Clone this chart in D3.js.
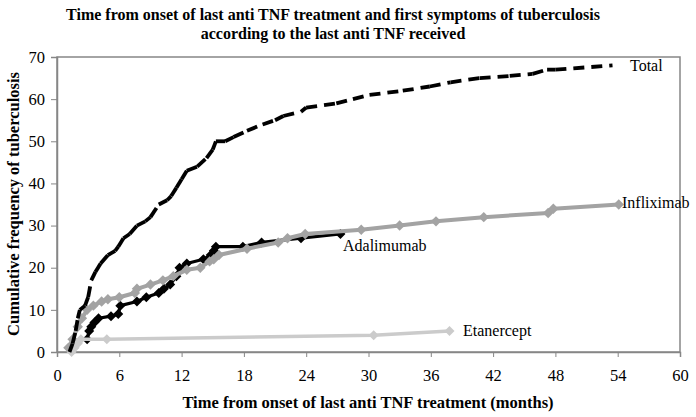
<!DOCTYPE html>
<html>
<head>
<meta charset="utf-8">
<script src="https://cdn.jsdelivr.net/npm/d3@7"></script>
<style>
  html, body { margin: 0; padding: 0; background: #fff; }
  svg { display: block; font-family: "Liberation Serif", "Times New Roman", serif; }
</style>
</head>
<body>
<svg id="chart" width="696" height="417"></svg>
<script>
// ---- data (month, cumulative count) ----
const titleLines = [
  "Time from onset of last anti TNF treatment and first symptoms of tuberculosis",
  "according to the last anti TNF received"
];
const xTicks = [0, 6, 12, 18, 24, 30, 36, 42, 48, 54, 60];
const yTicks = [0, 10, 20, 30, 40, 50, 60, 70];
const xTitle = "Time from onset of last anti TNF treatment (months)";
const yTitle = "Cumulative frequency of tuberculosis";

const totalData = [
  [1.2,0],[1.5,2],[1.8,5],[2.0,8],[2.2,10],[2.7,11],[3.0,13],[3.3,17],[3.7,19],[4.2,21],
  [4.9,23],[5.6,24],[5.9,25],[6.4,27],[7.0,28],[7.7,30],[8.5,31],[9.0,32],[9.8,35],[10.6,36],
  [11.0,37],[11.5,39],[12.0,41],[12.5,43],[13.5,44],[14.4,46],[15.0,48],[15.3,50],[16.2,50],
  [17.0,51],[18.3,52.5],[19.8,54],[21.0,55],[21.8,56],[23.5,57],[24.0,58],[26.9,59],[28.5,60],
  [30.1,61],[33.3,62],[35.9,63],[37.9,64],[40.7,65],[43.6,65.5],[45.8,66],[47.2,67],[48.0,67],[53.5,68]
];
const infliximabData = [
  [1.1,1],[1.5,3],[2.0,6],[2.4,8],[2.9,10],[3.5,11],[4.3,12],[4.9,12.5],[6.0,13],[7.5,14],
  [7.7,15],[9.0,16],[10.2,17],[11.2,18],[12.5,19.5],[13.8,20],[14.7,21.5],[15.1,22],[15.6,23],
  [18.3,24.5],[21.3,26],[22.2,27],[23.9,28],[29.3,29],[33.0,30],[36.5,31],[41.1,32],[47.3,33],
  [47.8,34],[54.1,35]
];
const adalimumabData = [
  [2.9,3],[3.1,5],[3.3,6],[3.6,7],[4.0,8],[5.2,8.5],[5.9,9],[6.1,11],[7.7,12],[8.6,13],
  [9.8,14],[10.3,15],[10.9,16],[11.5,18],[11.8,20],[12.5,21],[14.1,22],[14.8,23],[15.1,24],
  [15.3,25],[17.9,25],[19.7,26],[23.5,27],[27.3,28]
];
const etanerceptData = [
  [1.4,0],[1.7,1],[2.0,2],[2.3,3],[4.8,3],[30.5,4],[37.8,5]
];
const seriesNames = ["Adalimumab", "Infliximab", "Etanercept", "Total"];

// ---- layout ----
const svg = d3.select("#chart");
const x = d3.scaleLinear().domain([0, 60]).range([57, 680]);
const y = d3.scaleLinear().domain([0, 70]).range([352, 57]);
const frameColor = "#868686";

// title
svg.append("g").selectAll("text").data(titleLines).join("text")
  .attr("x", 333).attr("y", (d, i) => 20 + i * 19)
  .attr("text-anchor", "middle")
  .attr("font-weight", "bold").attr("font-size", 16)
  .text(d => d);

// plot frame
svg.append("rect")
  .attr("x", x(0)).attr("y", y(70))
  .attr("width", x(60) - x(0)).attr("height", y(0) - y(70))
  .attr("fill", "none").attr("stroke", frameColor).attr("stroke-width", 1.5);

// axes
const xAxis = svg.append("g").attr("transform", `translate(0,${y(0)})`)
  .call(d3.axisBottom(x).tickValues(xTicks).tickSize(5).tickPadding(12).tickFormat(d3.format("d")));
const yAxis = svg.append("g").attr("transform", `translate(${x(0)},0)`)
  .call(d3.axisLeft(y).tickValues(yTicks).tickSize(6).tickPadding(6).tickFormat(d3.format("d")));
[xAxis, yAxis].forEach(a => {
  a.select(".domain").attr("stroke", frameColor).attr("stroke-width", 1.5);
  a.selectAll(".tick line").attr("stroke", frameColor).attr("stroke-width", 1);
  a.selectAll(".tick text").attr("fill", "#000")
    .attr("font-family", '"Liberation Serif", "Times New Roman", serif').attr("font-size", 16.5);
});

// axis titles
svg.append("text").attr("x", 368).attr("y", 408)
  .attr("text-anchor", "middle").attr("font-weight", "bold").attr("font-size", 16.5)
  .text(xTitle);
svg.append("text").attr("transform", "translate(19,204) rotate(-90)")
  .attr("text-anchor", "middle").attr("font-weight", "bold").attr("font-size", 16.5)
  .text(yTitle);

// lines
const line = d3.line().x(d => x(d[0])).y(d => y(d[1]));
const diamond = r => `M0,${-r}L${r},0L0,${r}L${-r},0Z`;

function drawSeries(data, color, width, r) {
  const g = svg.append("g");
  g.append("path").datum(data).attr("d", line)
    .attr("fill", "none").attr("stroke", color).attr("stroke-width", width)
    .attr("stroke-linejoin", "round");
  g.selectAll("path.m").data(data).join("path").attr("class", "m")
    .attr("transform", d => `translate(${x(d[0])},${y(d[1])})`)
    .attr("d", diamond(r)).attr("fill", color);
}
drawSeries(adalimumabData, "#000000", 3.2, 5);
drawSeries(infliximabData, "#a3a3a3", 4, 5.2);
drawSeries(etanerceptData, "#cbcbcb", 3.5, 5);

// Total: dashed, pattern restarting at each segment
svg.append("g").selectAll("line").data(d3.pairs(totalData)).join("line")
  .attr("x1", d => x(d[0][0])).attr("y1", d => y(d[0][1]))
  .attr("x2", d => x(d[1][0])).attr("y2", d => y(d[1][1]))
  .attr("stroke", "#000").attr("stroke-width", 3.8)
  .attr("stroke-dasharray", "11,7");

// series labels
const labelPos = [
  { name: seriesNames[0], x: 343, y: 251 },
  { name: seriesNames[1], x: 622, y: 208 },
  { name: seriesNames[2], x: 463, y: 336 },
  { name: seriesNames[3], x: 630, y: 71 }
];
svg.append("g").selectAll("text").data(labelPos).join("text")
  .attr("x", d => d.x).attr("y", d => d.y)
  .attr("font-size", 16)
  .text(d => d.name);
</script>
</body>
</html>
